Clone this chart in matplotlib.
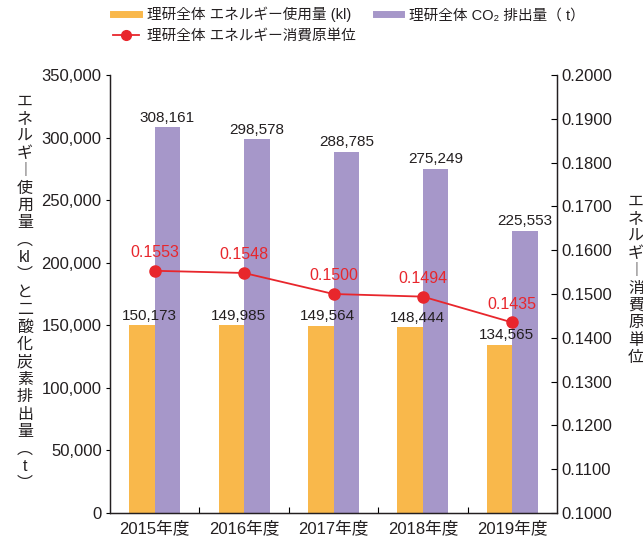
import matplotlib.pyplot as plt
import numpy as np
from matplotlib.lines import Line2D
from matplotlib.ticker import FuncFormatter, FixedLocator

plt.rcParams['font.family'] = ['Liberation Sans', 'Noto Sans CJK JP', 'DejaVu Sans']

years = ['2015年度', '2016年度', '2017年度', '2018年度', '2019年度']
energy = [150173, 149985, 149564, 148444, 134565]
co2 = [308161, 298578, 288785, 275249, 225553]
unit = [0.1553, 0.1548, 0.1500, 0.1494, 0.1435]

ORANGE = '#F9B84B'
PURPLE = '#A697C9'
RED = '#E8262C'
TXT = '#231F20'

W, H = 643, 538
fig = plt.figure(figsize=(W / 100, H / 100), dpi=100)


def fx(x):
    return x / W


def fy(y):
    return 1 - y / H


ax = fig.add_axes([fx(110), fy(513), fx(557) - fx(110), fy(75) - fy(513)])
ax2 = ax.twinx()
ax.set_zorder(ax2.get_zorder() - 1)
ax2.patch.set_visible(False)

x = np.arange(len(years))
bw = 0.286
ax.bar(x - bw / 2, energy, bw, color=ORANGE)
ax.bar(x + bw / 2, co2, bw, color=PURPLE)

for i in range(len(years)):
    ax.text(x[i] - bw / 2 + 0.08, energy[i] + 2000, f'{energy[i]:,}', ha='center', va='bottom',
            fontsize=11, color=TXT)
    ax.text(x[i] + bw / 2, co2[i] + 2000, f'{co2[i]:,}', ha='center', va='bottom',
            fontsize=11, color=TXT)

ax2.plot(x, unit, color=RED, lw=1.3, marker='o', ms=8)
for i in range(len(years)):
    ax2.text(x[i], unit[i] + 0.0025, f'{unit[i]:.4f}', ha='center', va='bottom',
             fontsize=11.5, color=RED)

ax.set_xlim(-0.5, 4.5)
ax.set_ylim(0, 350000)
ax2.set_ylim(0.1, 0.2)
ax.set_yticks(np.arange(0, 350001, 50000))
ax.yaxis.set_major_formatter(FuncFormatter(lambda v, p: f'{int(v):,}'))
ax2.set_yticks(np.arange(0.1, 0.20001, 0.01))
ax2.yaxis.set_major_formatter(FuncFormatter(lambda v, p: f'{v:.4f}'))

ax.set_xticks(x)
ax.set_xticklabels(years, fontsize=12, color=TXT)
ax.tick_params(axis='x', length=0, pad=5)
ax.xaxis.set_minor_locator(FixedLocator([0.5, 1.5, 2.5, 3.5]))
ax.tick_params(axis='x', which='minor', direction='in', length=4, width=0.8)
ax.tick_params(axis='y', labelsize=12, labelcolor=TXT, length=3, width=0.8, pad=3)
ax2.tick_params(axis='y', labelsize=12, labelcolor=TXT, direction='in', length=4,
                width=0.8, pad=3)

for a in (ax, ax2):
    a.spines['top'].set_visible(False)
    for s in ('left', 'right', 'bottom'):
        a.spines[s].set_linewidth(0.9)
        a.spines[s].set_color(TXT)

# vertical axis titles, one character per row
left_chars = ['エ', 'ネ', 'ル', 'ギ', '︱', '使', '用', '量', '︵', 'kl', '︶', 'と', '二', '酸',
              '化', '炭', '素', '排', '出', '量', '︵', 't', '︶']
for i, c in enumerate(left_chars):
    fig.text(fx(25), fy(101 + i * 17.4), c, ha='center', va='center', fontsize=11.5, color=TXT)

right_chars = ['エ', 'ネ', 'ル', 'ギ', '︱', '消', '費', '原', '単', '位']
for i, c in enumerate(right_chars):
    fig.text(fx(636), fy(201 + i * 17.4), c, ha='center', va='center', fontsize=11.5, color=TXT)

handles = [Line2D([], [], color=ORANGE, lw=5),
           Line2D([], [], color=RED, lw=1.3, marker='o', ms=7),
           Line2D([], [], color=PURPLE, lw=5)]
labels = ['理研全体 エネルギー使用量 (kl)', '理研全体 エネルギー消費原単位', '理研全体 CO₂ 排出量（ t）']
fig.legend(handles, labels, loc='upper left', bbox_to_anchor=(fx(113), fy(7)), ncol=2,
           frameon=False, fontsize=10.5, handlelength=1.75, handletextpad=0.55,
           columnspacing=1.4, labelspacing=0.45, borderpad=0, borderaxespad=0,
           labelcolor=TXT)

fig.savefig('out.png', dpi=100)
